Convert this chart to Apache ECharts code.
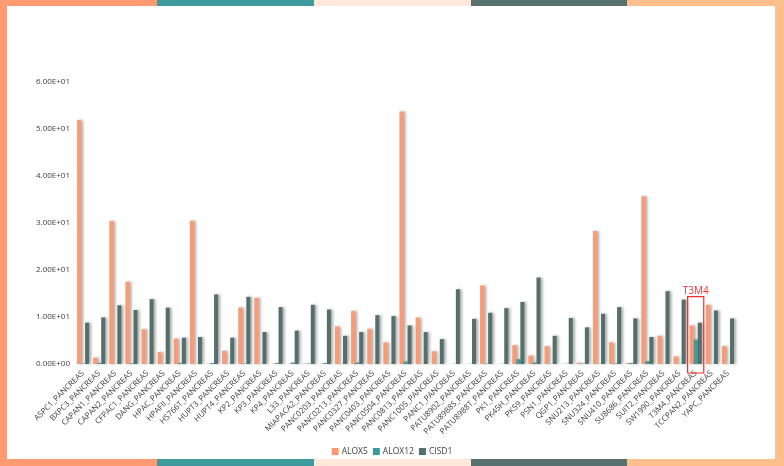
<!DOCTYPE html>
<html>
<head>
<meta charset="utf-8">
<script src="https://cdn.jsdelivr.net/npm/echarts@6/dist/echarts.min.js"></script>
<style>
html,body{margin:0;padding:0;background:#fff;}
#wrap{position:relative;width:784px;height:466px;overflow:hidden;background:#fff;}
#chart{position:absolute;left:0;top:0;width:784px;height:466px;}
.seg{position:absolute;}
</style>
</head>
<body>
<div id="wrap">
  <div class="seg" style="left:0;top:0;width:157px;height:6px;background:#FF9A72"></div>
  <div class="seg" style="left:157px;top:0;width:157px;height:6px;background:#3E9A9C"></div>
  <div class="seg" style="left:314px;top:0;width:157px;height:6px;background:#FFE8D9"></div>
  <div class="seg" style="left:471px;top:0;width:156px;height:6px;background:#57716E"></div>
  <div class="seg" style="left:627px;top:0;width:157px;height:6px;background:#FFBF8C"></div>
  <div class="seg" style="left:0;top:459px;width:157px;height:7px;background:#FF9A72"></div>
  <div class="seg" style="left:157px;top:459px;width:157px;height:7px;background:#3E9A9C"></div>
  <div class="seg" style="left:314px;top:459px;width:157px;height:7px;background:#FFE8D9"></div>
  <div class="seg" style="left:471px;top:459px;width:156px;height:7px;background:#57716E"></div>
  <div class="seg" style="left:627px;top:459px;width:157px;height:7px;background:#FFBF8C"></div>
  <div class="seg" style="left:0;top:0;width:7px;height:466px;background:#FF9A72"></div>
  <div class="seg" style="left:775px;top:0;width:9px;height:466px;background:#FFBF8C"></div>
  <div id="chart"></div>
</div>
<script>
const categories = [
  "ASPC1_PANCREAS","BXPC3_PANCREAS","CAPAN1_PANCREAS","CAPAN2_PANCREAS","CFPAC1_PANCREAS",
  "DANG_PANCREAS","HPAC_PANCREAS","HPAFII_PANCREAS","HS766T_PANCREAS","HUPT3_PANCREAS",
  "HUPT4_PANCREAS","KP2_PANCREAS","KP3_PANCREAS","KP4_PANCREAS","L33_PANCREAS",
  "MIAPACA2_PANCREAS","PANC0203_PANCREAS","PANC0213_PANCREAS","PANC0327_PANCREAS","PANC0403_PANCREAS",
  "PANC0504_PANCREAS","PANC0813_PANCREAS","PANC1005_PANCREAS","PANC1_PANCREAS","PATU8902_PANCREAS",
  "PATU8988S_PANCREAS","PATU8988T_PANCREAS","PK1_PANCREAS","PK45H_PANCREAS","PK59_PANCREAS",
  "PSN1_PANCREAS","QGP1_PANCREAS","SNU213_PANCREAS","SNU324_PANCREAS","SNU410_PANCREAS",
  "SU8686_PANCREAS","SUIT2_PANCREAS","SW1990_PANCREAS","T3M4_PANCREAS","TCCPAN2_PANCREAS",
  "YAPC_PANCREAS"
];
const alox5 = [51.9,1.35,30.4,17.5,7.4,2.55,5.4,30.5,0.05,2.8,12.0,14.1,0.05,0.05,0.1,
  0.05,8.0,11.3,7.5,4.6,53.7,9.9,2.7,0.02,0.02,16.7,0.02,4.0,1.8,3.8,
  0.05,0.3,28.3,4.6,0.2,35.7,6.0,1.6,8.2,12.6,3.8];
const alox12 = [0.1,0.2,0.05,0.15,0.05,0.05,0.2,0.05,0.2,0.05,0.1,0.05,0.2,0.3,0.1,
  0.2,0.05,0.3,0.05,0.05,0.5,0.05,0.05,0.05,0.05,0.1,0.05,1.0,0.3,0.05,
  0.05,0.1,0.05,0.1,0.2,0.6,0.05,0.05,5.2,0.05,0.05];
const cisd1 = [8.8,9.9,12.5,11.5,13.8,12.0,5.6,5.75,14.8,5.6,14.3,6.8,12.1,7.1,12.6,
  11.6,6.0,6.8,10.4,10.2,8.2,6.8,5.3,15.9,9.6,10.9,11.9,13.2,18.4,6.0,
  9.8,7.8,10.7,12.1,9.7,5.75,15.5,13.7,8.8,11.4,9.7];
const yTicks = [0,10,20,30,40,50,60];
const highlightCategory = "T3M4_PANCREAS";
const highlightLabel = "T3M4";

const colors = ["#FE9A72","#3A9C9C","#566F6B"];
const font = "'Open Sans', 'Noto Sans', sans-serif";

function fmt(v){
  const s = Number(v).toExponential(2).toUpperCase();
  return s.replace(/E([+-])(\d)$/, "E$10$2");
}

const chart = echarts.init(document.getElementById('chart'), null, {renderer:'canvas'});
const shadow = {shadowColor:'rgba(0,0,0,0.35)', shadowBlur:3, shadowOffsetX:2, shadowOffsetY:0};
function mk(name, data, color){
  return {
    name, type:'bar', data, barGap:'0%', barCategoryGap:'25%',
    itemStyle:Object.assign({color}, shadow), animation:false
  };
}
chart.setOption({
  animation:false,
  color:colors,
  grid:{left:75, right:48, top:82, bottom:102, containLabel:false},
  legend:{
    bottom:5, left:'center', itemWidth:7, itemHeight:7, itemGap:5,
    icon:'rect',
    textStyle:{fontSize:8.5, color:'#404040', fontFamily:font, padding:[0,0,0,-2]},
    data:['ALOX5','ALOX12','CISD1']
  },
  xAxis:{
    type:'category', data:categories,
    axisLine:{show:false}, axisTick:{show:false},
    axisLabel:{rotate:45, fontSize:8, color:'#404040', fontFamily:font, interval:0, margin:8}
  },
  yAxis:{
    type:'value', min:yTicks[0], max:yTicks[yTicks.length-1], interval:10,
    splitLine:{show:false}, axisLine:{show:false}, axisTick:{show:false},
    axisLabel:{formatter:fmt, fontSize:8, color:'#404040', fontFamily:font, margin:5}
  },
  series:[mk('ALOX5',alox5,colors[0]), mk('ALOX12',alox12,colors[1]), mk('CISD1',cisd1,colors[2])]
});

// annotation box around the highlighted category
const idx = categories.indexOf(highlightCategory);
const cx = chart.convertToPixel({xAxisIndex:0}, idx);
const band = chart.convertToPixel({xAxisIndex:0}, 1) - chart.convertToPixel({xAxisIndex:0}, 0);
const maxVal = Math.max(alox5[idx], alox12[idx], cisd1[idx]);
const topY = chart.convertToPixel({yAxisIndex:0}, maxVal) - 26;
const baseY = chart.convertToPixel({yAxisIndex:0}, 0);
chart.setOption({
  graphic:[
    {type:'rect', shape:{x:cx-band/2, y:topY, width:band, height:baseY+9-topY},
     style:{fill:'none', stroke:'#F03030', lineWidth:1.2}, z:100},
    {type:'text', x:cx, y:topY, style:{text:highlightLabel, fill:'#F03030', fontSize:10,
     fontFamily:font, align:'center', verticalAlign:'bottom'}, z:100}
  ]
});
</script>
</body>
</html>
